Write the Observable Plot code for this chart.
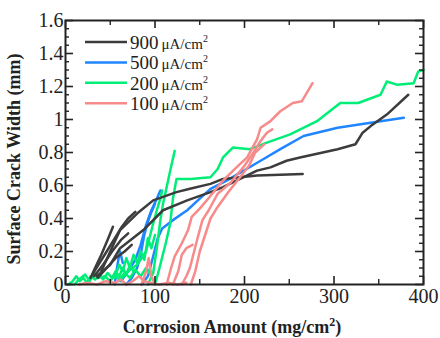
<!DOCTYPE html>
<html><head><meta charset="utf-8">
<script src="https://cdn.jsdelivr.net/npm/d3@7"></script>
<script src="https://cdn.jsdelivr.net/npm/@observablehq/plot@0.6"></script>
<style>body{margin:0;background:#fff} svg{display:block}</style>
</head><body><div id="chart"></div>
<script>
const seriesNames = ["900", "500", "200", "100"];
const seriesColors = ["#3c3c3c", "#1f86ff", "#00ee77", "#f78a8a"];
const legendUnit = "μA/cm";
const xTicks = [0, 100, 200, 300, 400];
const xMinorTicks = [50, 150, 250, 350];
const yTicks = [0, 0.2, 0.4, 0.6, 0.8, 1, 1.2, 1.4, 1.6];
const yTickLabels = ["0", "0.2", "0.4", "0.6", "0.8", "1", "1.2", "1.4", "1.6"];
const yMinorTicks = [0.05,0.1,0.15,0.25,0.3,0.35,0.45,0.5,0.55,0.65,0.7,0.75,0.85,0.9,0.95,1.05,1.1,1.15,1.25,1.3,1.35,1.45,1.5,1.55];
const xTitle = "Corrosion Amount (mg/cm";
const yTitle = "Surface Crack Width (mm)";

// 900 uA/cm2
const black1 = [[40,0.08],[50,0.2],[61,0.33],[80,0.43],[98,0.51],[124,0.56],[139,0.58],[162,0.61],[176,0.64],[214,0.66],[240,0.665],[265,0.67]];
const black2 = [[35,0.05],[50,0.12],[61,0.22],[87,0.33],[109,0.45],[136,0.51],[162,0.56],[176,0.59],[214,0.69],[229,0.71],[247,0.75],[262,0.77],[304,0.82],[324,0.85],[332,0.92],[341,0.96],[359,1.03],[383,1.15]];
const black3 = [[28,0.04],[33,0.1],[40,0.18],[47,0.27],[53,0.35]];
const black4 = [[30,0.06],[38,0.13],[46,0.2],[55,0.28],[63,0.35],[70,0.4],[78,0.44]];
const black5 = [[32,0.05],[42,0.12],[52,0.2],[62,0.27],[70,0.31]];
const black6 = [[36,0.04],[46,0.1],[56,0.16],[66,0.2],[74,0.24]];
// 500 uA/cm2
const blue1 = [[85,0],[92,0.05],[97,0.15],[103,0.28],[108,0.34],[120,0.39],[136,0.45],[150,0.52],[162,0.58],[180,0.63],[218,0.75],[240,0.82],[266,0.9],[304,0.95],[341,0.98],[378,1.01]];
const blue2 = [[55,0],[57,0.08],[59,0.15],[61,0.2],[64,0.13]];
const blue3 = [[62,0.02],[70,0.08],[78,0.15],[84,0.24],[90,0.36],[96,0.45],[102,0.52],[106,0.57]];
const blue4 = [[68,0],[74,0.04],[80,0.1],[84,0.18],[88,0.3],[92,0.38],[96,0.44],[100,0.49]];
// 200 uA/cm2
const green1 = [[100,0],[105,0.1],[112,0.25],[117,0.37],[120,0.52],[124,0.64],[140,0.64],[162,0.65],[170,0.7],[176,0.77],[187,0.83],[206,0.82],[225,0.86],[251,0.91],[281,0.99],[307,1.1],[327,1.1],[352,1.15],[359,1.23],[371,1.21],[389,1.22],[394,1.29],[400,1.3]];
const green2 = [[92,0],[98,0.07],[102,0.22],[106,0.39],[109,0.49],[113,0.59],[117,0.69],[122,0.81]];
const green3 = [[60,0.02],[70,0.08],[80,0.12],[90,0.2],[97,0.35],[102,0.45],[106,0.52],[108,0.57]];
const green4 = [[3,0],[8,0.02],[12,0.05],[16,0.02],[20,0.04],[24,0.01],[28,0.05],[33,0.03],[38,0.06],[42,0.03],[47,0.07],[52,0.04],[56,0.08],[60,0.05],[64,0.1],[68,0.06],[72,0.12],[76,0.08]];
const green5 = [[10,0],[15,0.03],[22,0.06],[27,0.02],[32,0.07],[37,0.04],[44,0.05],[50,0.02],[55,0.06],[60,0.03],[66,0.07],[72,0.04],[78,0.09],[84,0.05],[90,0.1],[95,0.06]];
const green6 = [[55,0.04],[60,0.12],[64,0.08],[68,0.16],[72,0.1],[76,0.18],[80,0.13],[84,0.2],[88,0.15],[92,0.28],[96,0.22],[100,0.3]];
// 100 uA/cm2
const pink1 = [[113,0],[118,0.1],[122,0.17],[130,0.25],[137,0.33],[141,0.41],[150,0.46],[161,0.53],[176,0.63],[191,0.71],[203,0.77],[214,0.88],[218,0.95],[229,0.99],[240,1.05],[254,1.1],[264,1.11],[276,1.22]];
const pink2 = [[130,0],[135,0.05],[139,0.1],[147,0.27],[153,0.39],[160,0.45],[170,0.55],[185,0.62],[200,0.72],[210,0.8],[218,0.87],[225,0.92],[231,0.94]];
const pink3 = [[140,0],[145,0.08],[150,0.2],[156,0.3],[162,0.4],[170,0.47],[182,0.56],[195,0.65],[205,0.72],[212,0.8],[222,0.85]];
const pink4 = [[120,0],[126,0.08],[130,0.18],[135,0.22],[142,0.24]];
const pink5 = [[85,0],[90,0.08],[93,0.16],[96,0.05],[100,0]];
const pink6 = [[15,0],[25,0.01],[35,0],[45,0.02],[55,0.01],[62,0.03],[68,0],[75,0.02],[82,0.05],[88,0.02],[95,0.01],[105,0],[115,0.01],[125,0],[135,0.01]];

const groups = [
  ["500", [blue1, blue2, blue3, blue4]],
  ["200", [green1, green2, green3, green4, green5, green6]],
  ["900", [black1, black2, black3, black4, black5, black6]],
  ["100", [pink1, pink2, pink3, pink4, pink5, pink6]]
];
const rows = [];
groups.forEach(([s, lines]) => lines.forEach((pts, i) => pts.forEach(([x, y]) => rows.push({series: s, id: s + "-" + i, x, y}))));

const W = 440, H = 338, mL = 65, mR = 17, mT = 20, mB = 54;
const pW = W - mL - mR, pH = H - mT - mB;
const font = "'Liberation Serif','Times New Roman',serif";

const plot = Plot.plot({
  width: W, height: H,
  marginLeft: mL, marginRight: mR, marginTop: mT, marginBottom: mB,
  style: {fontFamily: font, background: "#fff", color: "#222"},
  x: {domain: [0, 400]},
  y: {domain: [0, 1.6]},
  color: {domain: seriesNames, range: seriesColors},
  marks: [
    Plot.line(rows, {x: "x", y: "y", z: "id", stroke: "series", strokeWidth: 2.5, curve: "linear"}),
    Plot.frame({stroke: "#222", strokeWidth: 2}),
    Plot.tickX(xTicks, {x: d => d, insetTop: pH - 8, stroke: "#222", strokeWidth: 1.6}),
    Plot.tickX(xTicks, {x: d => d, insetBottom: pH - 8, stroke: "#222", strokeWidth: 1.6}),
    Plot.tickX(xMinorTicks, {x: d => d, insetTop: pH - 5, stroke: "#222", strokeWidth: 1.4}),
    Plot.tickX(xMinorTicks, {x: d => d, insetBottom: pH - 5, stroke: "#222", strokeWidth: 1.4}),
    Plot.tickY(yTicks, {y: d => d, insetRight: pW - 8, stroke: "#222", strokeWidth: 1.6}),
    Plot.tickY(yTicks, {y: d => d, insetLeft: pW - 8, stroke: "#222", strokeWidth: 1.6}),
    Plot.tickY(yMinorTicks, {y: d => d, insetRight: pW - 4, stroke: "#222", strokeWidth: 1.4}),
    Plot.tickY(yMinorTicks, {y: d => d, insetLeft: pW - 4, stroke: "#222", strokeWidth: 1.4}),
    Plot.axisX(xTicks, {tickSize: 0, tickPadding: 4, fontSize: 20, tickFormat: d => String(d), label: null}),
    Plot.axisY(yTicks, {tickSize: 0, tickPadding: 2, fontSize: 20, tickFormat: d => yTickLabels[yTicks.indexOf(d)], label: null})
  ]
});
document.getElementById("chart").appendChild(plot);

const svg = d3.select(plot);
// axis titles
const xt = svg.append("text").attr("x", 232).attr("y", 333).attr("text-anchor", "middle")
  .attr("font-family", font).attr("font-weight", "bold").attr("font-size", 18).attr("fill", "#222");
xt.append("tspan").text(xTitle);
xt.append("tspan").attr("font-size", 12).attr("dy", -7).text("2");
xt.append("tspan").attr("dy", 7).text(")");
svg.append("text").attr("transform", "translate(20,159) rotate(-90)").attr("text-anchor", "middle")
  .attr("font-family", font).attr("font-weight", "bold").attr("font-size", 18).attr("fill", "#222").text(yTitle);

// legend
const lg = svg.append("g").attr("text-anchor", "start");
seriesNames.forEach((s, i) => {
  const y = 42 + i * 20.4;
  lg.append("line").attr("x1", 85).attr("x2", 127).attr("y1", y).attr("y2", y)
    .attr("stroke", seriesColors[i]).attr("stroke-width", 2.5);
  const t = lg.append("text").attr("x", 130).attr("y", y + 7).attr("text-anchor", "start")
    .attr("font-family", font).attr("fill", "#222");
  t.append("tspan").attr("font-size", 19).text(s);
  t.append("tspan").attr("font-size", 15).attr("dx", 3).text(legendUnit);
  t.append("tspan").attr("font-size", 10).attr("dy", -7).text("2");
});
</script></body></html>
